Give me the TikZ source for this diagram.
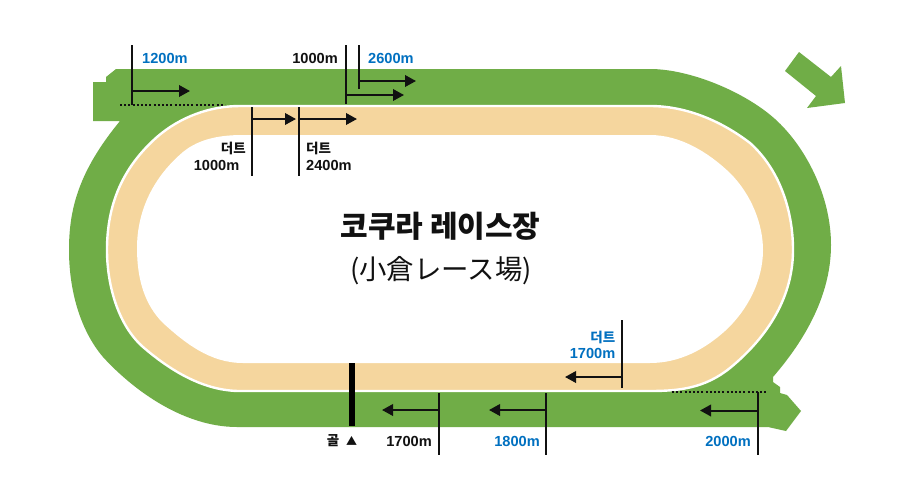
\documentclass[tikz,border=0pt]{standalone}
\usepackage{fontspec}
\setmainfont{Liberation Sans}
\newfontfamily\kr{Noto Sans CJK KR}
\newfontfamily\jp{Noto Sans CJK JP}
\definecolor{turf}{HTML}{70AD47}
\definecolor{dirt}{HTML}{F5D69E}
\definecolor{lab}{HTML}{0070C0}
\definecolor{ink}{HTML}{111111}
\usetikzlibrary{arrows.meta}
\tikzset{
  mark line/.style={draw=ink,line width=2pt},
  dir arrow/.style={draw=ink,line width=2pt,-{Triangle[length=11pt,width=11.5pt]}},
  dotline/.style={draw=ink,line width=2pt,dash pattern=on 2pt off 2.2pt},
  dist/.style={font=\bfseries\fontsize{14.6}{16}\selectfont,text=ink,inner sep=0pt},
  distb/.style={dist,text=lab},
  distk/.style={dist,font=\kr\bfseries\fontsize{13.5}{15}\selectfont},
  distkb/.style={distk,text=lab},
}
\begin{document}
\begin{tikzpicture}[x=1pt,y=-1pt]
\useasboundingbox (0,0) rectangle (900,496);
\fill[white] (0,0) rectangle (900,496);
% turf
\fill[turf] (116,69) -- (650,69)
  .. controls (690,69) and (745,92) .. (775,119)
  .. controls (805,146) and (831,195) .. (831,245)
  .. controls (831,295) and (805,340) .. (773,377)
  -- (773,382) -- (780,387) -- (780,393) -- (787,395) -- (801,411) -- (786,431) -- (768,427)
  -- (237,427)
  .. controls (185,427) and (135,392) .. (103,357)
  .. controls (80,330) and (69,290) .. (69,250)
  .. controls (69,210) and (78,172) .. (120,121)
  -- (93,121) -- (93,82) -- (106,82) -- (106,77) -- cycle;
% dirt
\fill[dirt,draw=white,line width=2.4pt] (240,106) -- (650,106)
  .. controls (685,106) and (720,120) .. (750,143)
  .. controls (778,168) and (793,208) .. (793,250)
  .. controls (793,295) and (770,335) .. (730,368)
  .. controls (705,388) and (680,391) .. (650,391)
  -- (240,391)
  .. controls (205,391) and (172,372) .. (143,347)
  .. controls (118,325) and (107,285) .. (107,250)
  .. controls (107,205) and (122,168) .. (157,137)
  .. controls (180,117) and (210,106) .. (240,106) -- cycle;
\fill[white] (243,135) -- (650,135)
  .. controls (680,135) and (708,152) .. (730,173)
  .. controls (752,195) and (763,225) .. (763,250)
  .. controls (763,280) and (748,310) .. (725,331)
  .. controls (705,349) and (680,363) .. (650,363)
  -- (243,363)
  .. controls (210,363) and (185,343) .. (163,323)
  .. controls (145,305) and (137,280) .. (137,248)
  .. controls (137,215) and (150,180) .. (183,152)
  .. controls (200,138) and (222,135) .. (243,135) -- cycle;
% turf direction arrow
\fill[turf] (799,52) -- (831,77) -- (841,66) -- (845,103) -- (807,108) -- (816,96) -- (785,71) -- cycle;
% title
\node[inner sep=0pt,font=\kr\bfseries\fontsize{30}{33}\selectfont,text=ink] (title) at (440.5,226) {코쿠라 레이스장};
\node[inner sep=0pt,font=\jp\fontsize{27.4}{30}\selectfont,text=ink] (subtitle) at (441,271) {(小倉レース場)};
% marker coordinates
\coordinate (a1t) at (132,45); \coordinate (a1b) at (132,105); \coordinate (a1s) at (132,91); \coordinate (a1e) at (190,91);
\coordinate (d1a) at (120,105); \coordinate (d1b) at (225,105);
\coordinate (a2t) at (346,45); \coordinate (a2b) at (346,104); \coordinate (a2s) at (346,95); \coordinate (a2e) at (404,95);
\coordinate (a3t) at (359,45); \coordinate (a3b) at (359,89); \coordinate (a3s) at (359,81); \coordinate (a3e) at (416,81);
\coordinate (a4t) at (252,107); \coordinate (a4b) at (252,176); \coordinate (a4s) at (252,119); \coordinate (a4e) at (296,119);
\coordinate (a5t) at (299,107); \coordinate (a5b) at (299,176); \coordinate (a5s) at (299,119); \coordinate (a5e) at (357,119);
\coordinate (a6t) at (622,320); \coordinate (a6b) at (622,388); \coordinate (a6s) at (622,377); \coordinate (a6e) at (565,377);
\coordinate (a7t) at (439,393); \coordinate (a7b) at (439,455); \coordinate (a7s) at (439,410); \coordinate (a7e) at (382,410);
\coordinate (a8t) at (546,393); \coordinate (a8b) at (546,455); \coordinate (a8s) at (546,410); \coordinate (a8e) at (489,410);
\coordinate (a9t) at (758,392); \coordinate (a9b) at (758,455); \coordinate (a9s) at (758,410.5); \coordinate (a9e) at (700,410.5);
\coordinate (d2a) at (672,392); \coordinate (d2b) at (768,392);
\coordinate (gt) at (352,363); \coordinate (gb) at (352,426);
\foreach \n in {1,...,9}{
  \draw[mark line] (a\n t) -- (a\n b);
  \draw[dir arrow] (a\n s) -- (a\n e);
}
\draw[dotline] (d1a) -- (d1b);
\draw[dotline] (d2a) -- (d2b);
\draw[draw=black,line width=5.5pt] (gt) -- (gb);
% labels
\node[distb,anchor=west] (l1200) at (142,58) {1200m};
\node[dist,anchor=east] (l1000) at (338,58) {1000m};
\node[distb,anchor=west] (l2600) at (368,58) {2600m};
\node[distk,anchor=east] (kd1000) at (246,148) {더트};
\node[dist,anchor=east] (ld1000) at (239.5,165) {1000m};
\node[distk,anchor=west] (kd2400) at (306,148) {더트};
\node[dist,anchor=west] (ld2400) at (306,165) {2400m};
\node[distkb,anchor=east] (kd1700) at (615.5,337) {더트};
\node[distb,anchor=east] (ld1700) at (615.5,353) {1700m};
\node[dist,anchor=east] (l1700) at (432,441) {1700m};
\node[distb,anchor=east] (l1800) at (540,441) {1800m};
\node[distb,anchor=east] (l2000) at (751,441) {2000m};
\node[distk,anchor=center] (lgoal) at (333,440.5) {골};
\node[distk,anchor=center,font=\kr\fontsize{11}{12}\selectfont] (ltri) at (351.5,440.5) {▲};
\end{tikzpicture}
\end{document}
